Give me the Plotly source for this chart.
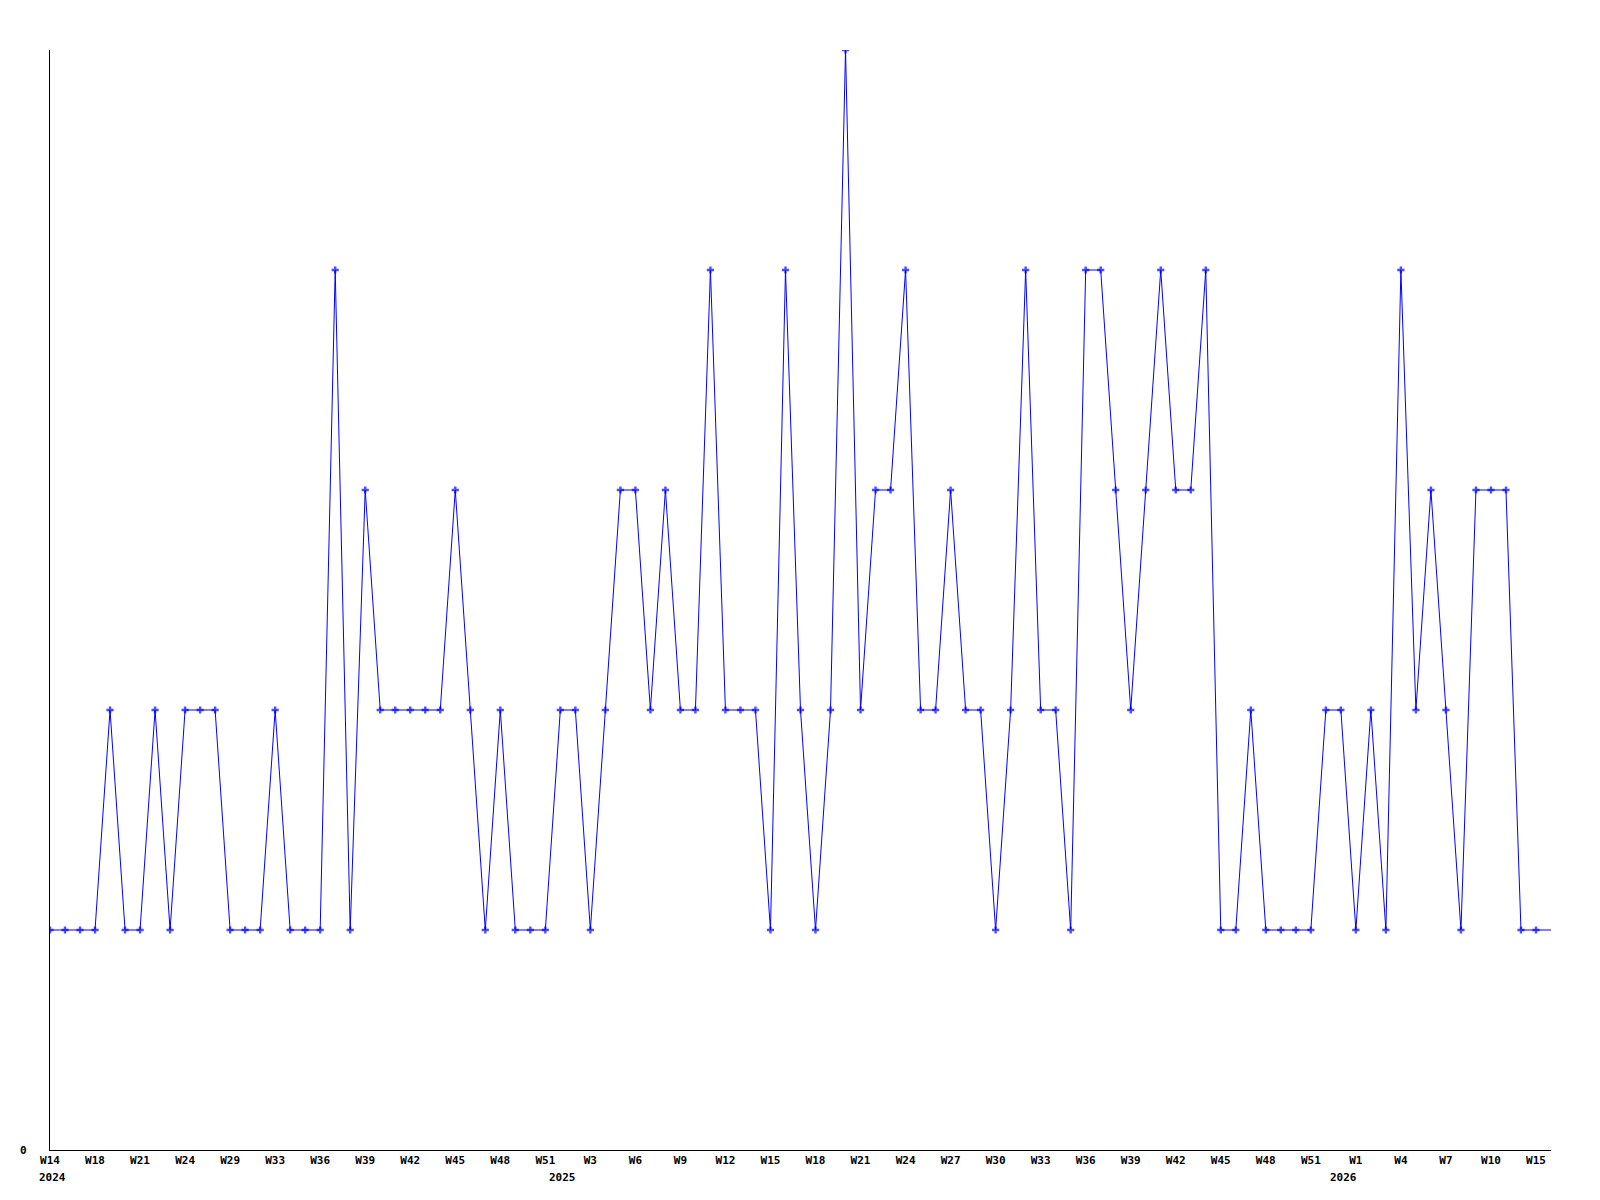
import plotly.graph_objects as go

values = [1, 1, 1, 1, 2, 1, 1, 2, 1, 2,
          2, 2, 1, 1, 1, 2, 1, 1, 1, 4,
          1, 3, 2, 2, 2, 2, 2, 3, 2, 1,
          2, 1, 1, 1, 2, 2, 1, 2, 3, 3,
          2, 3, 2, 2, 4, 2, 2, 2, 1, 4,
          2, 1, 2, 5, 2, 3, 3, 4, 2, 2,
          3, 2, 2, 1, 2, 4, 2, 2, 1, 4,
          4, 3, 2, 3, 4, 3, 3, 4, 1, 1,
          2, 1, 1, 1, 1, 2, 2, 1, 2, 1,
          4, 2, 3, 2, 1, 3, 3, 3, 1, 1,
          1]

tick_positions = [0, 3, 6, 9, 12, 15, 18, 21, 24, 27, 30, 33, 36, 39, 42, 45, 48,
                  51, 54, 57, 60, 63, 66, 69, 72, 75, 78, 81, 84, 87, 90, 93, 96, 99]
tick_labels = ["W14", "W18", "W21", "W24", "W29", "W33", "W36", "W39", "W42", "W45",
               "W48", "W51", "W3", "W6", "W9", "W12", "W15", "W18", "W21", "W24",
               "W27", "W30", "W33", "W36", "W39", "W42", "W45", "W48", "W51", "W1",
               "W4", "W7", "W10", "W15"]
year_positions = [0, 34, 86]
year_labels = ["2024", "2025", "2026"]

x = list(range(len(values)))
sizes = [6] * (len(values) - 1) + [0]

FONT = dict(family="DejaVu Sans Mono", size=11, color="black", weight="bold")

fig = go.Figure()
fig.add_trace(go.Scatter(
    x=x, y=values, mode="lines+markers",
    line=dict(color="#0000ff", width=1),
    marker=dict(symbol="cross", size=sizes, color="#0000ff", line=dict(width=0)),
    hoverinfo="skip", showlegend=False,
))

for p, lab in zip(year_positions, year_labels):
    fig.add_annotation(x=p, y=0, xref="x", yref="paper", text=lab, showarrow=False,
                       xanchor="left", yanchor="middle", xshift=-13, yshift=-27, font=FONT)

fig.add_annotation(x=0, y=0, xref="paper", yref="y", text="0", showarrow=False,
                   xanchor="center", yanchor="middle", xshift=-27, font=FONT)

fig.update_layout(
    width=1592, height=1192,
    margin=dict(l=42, r=49, t=42, b=50),
    paper_bgcolor="white", plot_bgcolor="white",
    font=FONT,
    xaxis=dict(range=[0, 100], tickmode="array", tickvals=tick_positions, ticktext=tick_labels,
               showgrid=False, zeroline=False, showline=True, linecolor="black", linewidth=1,
               ticks="", tickfont=FONT, fixedrange=True),
    yaxis=dict(range=[0, 5], showticklabels=False, showgrid=False, zeroline=False,
               showline=True, linecolor="black", linewidth=1, ticks="", fixedrange=True),
)

fig.write_html("out.html")
